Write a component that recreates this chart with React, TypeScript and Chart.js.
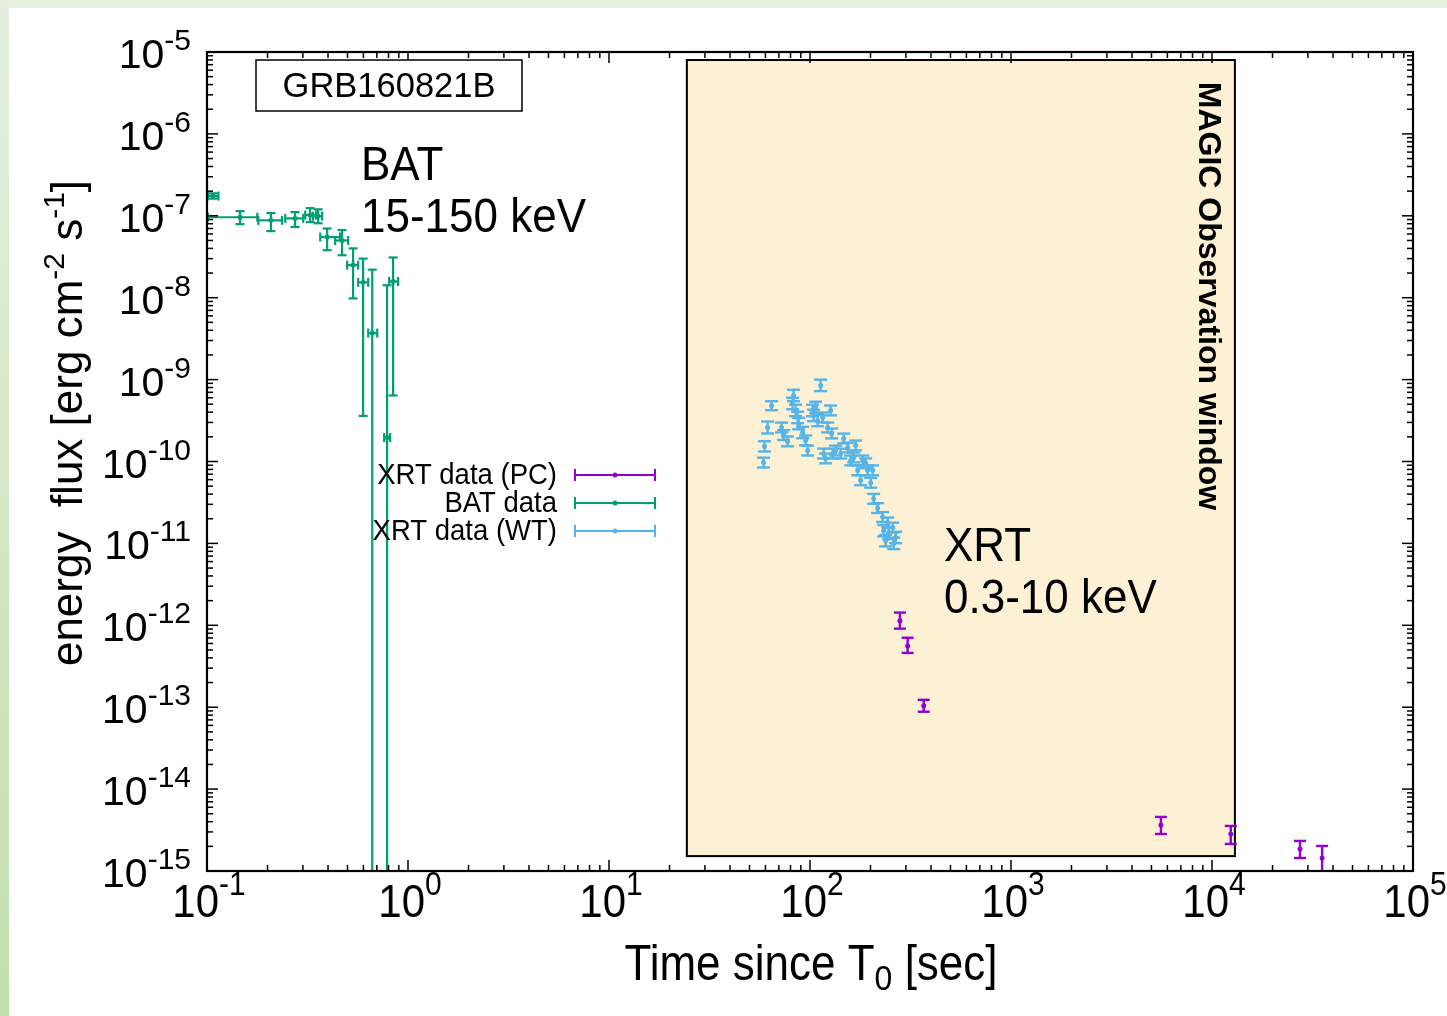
import React, { useEffect, useRef } from "react";
import { Chart, registerables } from "chart.js";

Chart.register(...registerables);

const FONT = '"Liberation Sans", Arial, Helvetica, sans-serif';

// ---- axes ----
const xMin = 0.1;
const xMax = 1e5;
const yMin = 1e-15;
const yMax = 1e-5;
const xTickValues = [0.1, 1, 10, 100, 1000, 10000, 100000];
const xTickExponents = ["-1", "0", "1", "2", "3", "4", "5"];
const yTickValues = [1e-5, 1e-6, 1e-7, 1e-8, 1e-9, 1e-10, 1e-11, 1e-12, 1e-13, 1e-14, 1e-15];
const yTickExponents = ["-5", "-6", "-7", "-8", "-9", "-10", "-11", "-12", "-13", "-14", "-15"];

// ---- series ----
const seriesLabels = ["XRT data (PC)", "BAT data", "XRT data (WT)"];
const seriesColors = ["#9400d3", "#009e73", "#56b4e9"];

// BAT 15-150 keV
const batTime = [0.107, 0.146, 0.208, 0.274, 0.326, 0.357, 0.396, 0.47, 0.533, 0.598, 0.664, 0.787, 0.843];
const batTimeLo = [0.101, 0.101, 0.18, 0.245, 0.308, 0.337, 0.366, 0.434, 0.498, 0.565, 0.634, 0.761, 0.806];
const batTimeHi = [0.114, 0.178, 0.236, 0.301, 0.349, 0.374, 0.459, 0.504, 0.565, 0.634, 0.703, 0.815, 0.893];
const batFlux = [1.74e-7, 9.6e-8, 8.8e-8, 9.3e-8, 1.02e-7, 9.9e-8, 5.5e-8, 5.0e-8, 2.5e-8, 1.54e-8, 3.7e-9, 1.96e-10, 1.58e-8];
const batFluxLo = [1.62e-7, 7.9e-8, 6.5e-8, 7.3e-8, 8.4e-8, 8.1e-8, 3.8e-8, 3.3e-8, 9.8e-9, 3.6e-10, 1e-18, 1e-18, 6.4e-10];
const batFluxHi = [1.88e-7, 1.14e-7, 1.08e-7, 1.11e-7, 1.24e-7, 1.2e-7, 7.0e-8, 6.7e-8, 4.0e-8, 3.0e-8, 2.2e-8, 1.42e-8, 3.1e-8];

// XRT PC 0.3-10 keV
const pcTime = [280, 306, 368, 5570, 12400, 27400, 35300];
const pcFlux = [1.14e-12, 5.6e-13, 1.04e-13, 3.65e-15, 2.83e-15, 1.86e-15, 1.44e-15];
const pcFluxLo = [9.1e-13, 4.6e-13, 8.8e-14, 2.83e-15, 2.14e-15, 1.44e-15, 1e-17];
const pcFluxHi = [1.43e-12, 7.05e-13, 1.23e-13, 4.57e-15, 3.55e-15, 2.33e-15, 2.02e-15];

// XRT WT 0.3-10 keV
const wtTime = [58.7, 59.4, 61.5, 64.4, 72.2, 73.9, 77.3, 81.9, 82.8, 84.8, 86.8, 87.8, 91.9, 95.1, 97.3, 103, 104.2, 106.6, 109.1, 112.9, 115.6, 116.9, 119.6, 122.4, 126.6, 128.1, 129.7, 134.1, 142.1, 147.1, 154, 159.3, 164.9, 168.7, 172.6, 178.6, 182.8, 189.2, 193.6, 200.4, 205, 207.3, 217, 229.8, 232.5, 237.9, 243.5, 246.3, 257.8, 260.8, 266.8];
const wtFlux = [9.7e-11, 1.53e-10, 2.6e-10, 4.8e-10, 2.6e-10, 2.1e-10, 1.76e-10, 5.1e-10, 6.4e-10, 4.2e-10, 3.45e-10, 2.9e-10, 2.26e-10, 1.81e-10, 1.36e-10, 4.2e-10, 3.65e-10, 4.57e-10, 3.17e-10, 8.5e-10, 3.45e-10, 1.25e-10, 1.09e-10, 2.6e-10, 4.2e-10, 2.2e-10, 1.25e-10, 1.36e-10, 1.25e-10, 1.91e-10, 1.48e-10, 1.03e-10, 1.12e-10, 1.57e-10, 7.8e-11, 5.9e-11, 1.03e-10, 9.5e-11, 7.8e-11, 5.5e-11, 7.8e-11, 3.5e-11, 2.7e-11, 2.1e-11, 1.43e-11, 1.08e-11, 1.8e-11, 1.32e-11, 1.56e-11, 1.0e-11, 1.18e-11];
const wtErrDex = [0.06, 0.063, 0.073, 0.055, 0.06, 0.06, 0.06, 0.07, 0.07, 0.07, 0.07, 0.07, 0.07, 0.06, 0.06, 0.07, 0.07, 0.07, 0.07, 0.07, 0.06, 0.06, 0.06, 0.06, 0.06, 0.06, 0.06, 0.06, 0.06, 0.06, 0.06, 0.06, 0.06, 0.06, 0.06, 0.06, 0.06, 0.06, 0.06, 0.06, 0.06, 0.06, 0.06, 0.06, 0.07, 0.07, 0.06, 0.07, 0.06, 0.07, 0.07];

// MAGIC observation window
const magicWindowTime = [24.4, 13000];
const magicWindowFlux = [1.52e-15, 7.98e-6];

// ---- text helpers ----
function txt(ctx: CanvasRenderingContext2D, s: string, x: number, y: number, font: string, align: CanvasTextAlign, sy = 1) {
  ctx.save();
  ctx.translate(x, y);
  ctx.scale(1, sy);
  ctx.font = font;
  ctx.textAlign = align;
  ctx.textBaseline = "alphabetic";
  ctx.fillStyle = "#000";
  ctx.fillText(s, 0, 0);
  ctx.restore();
}

function powLabel(ctx: CanvasRenderingContext2D, exp: string, x: number, y: number, baseSize: number, supSize: number, rise: number, align: "center" | "right", sy: number) {
  const bf = `${baseSize}px ${FONT}`;
  const sf = `${supSize}px ${FONT}`;
  ctx.font = bf;
  const wb = ctx.measureText("10").width;
  ctx.font = sf;
  const ws = ctx.measureText(exp).width;
  const total = wb + ws;
  const x0 = align === "center" ? x - total / 2 : x - total;
  txt(ctx, "10", x0, y, bf, "left", sy);
  txt(ctx, exp, x0 + wb, y - rise, sf, "left", sy);
}

type Seg = { t: string; shift: number; size: number };
function segWidth(ctx: CanvasRenderingContext2D, segs: Seg[]) {
  let w = 0;
  for (const s of segs) {
    ctx.font = `${s.size}px ${FONT}`;
    w += ctx.measureText(s.t).width;
  }
  return w;
}
function drawSegs(ctx: CanvasRenderingContext2D, segs: Seg[], x0: number, y: number, sy: number) {
  let x = x0;
  for (const s of segs) {
    const f = `${s.size}px ${FONT}`;
    txt(ctx, s.t, x, y + s.shift, f, "left", sy);
    ctx.font = f;
    x += ctx.measureText(s.t).width;
  }
}

const plotPlugin = {
  id: "grbPlot",
  beforeDraw(chart: any) {
    const ctx: CanvasRenderingContext2D = chart.ctx;
    const W = chart.width, H = chart.height;
    ctx.save();
    ctx.fillStyle = "#ffffff";
    ctx.fillRect(0, 0, W, H);
    ctx.fillStyle = "#e8f0e2";
    ctx.fillRect(0, 0, W, 8);
    const g = ctx.createLinearGradient(0, 0, 0, H);
    g.addColorStop(0, "#e6efdf");
    g.addColorStop(1, "#c2dfab");
    ctx.fillStyle = g;
    ctx.fillRect(0, 0, 9, H);
    ctx.restore();
  },
  beforeDatasetsDraw(chart: any) {
    const ctx: CanvasRenderingContext2D = chart.ctx;
    const xs = chart.scales.x, ys = chart.scales.y;
    const a = chart.chartArea;
    ctx.save();
    // MAGIC window
    const mx1 = xs.getPixelForValue(magicWindowTime[0]);
    const mx2 = xs.getPixelForValue(magicWindowTime[1]);
    const my1 = ys.getPixelForValue(magicWindowFlux[1]);
    const my2 = ys.getPixelForValue(magicWindowFlux[0]);
    ctx.fillStyle = "#fcf1d4";
    ctx.fillRect(mx1, my1, mx2 - mx1, my2 - my1);
    ctx.strokeStyle = "#000";
    ctx.lineWidth = 2;
    ctx.strokeRect(mx1, my1, mx2 - mx1, my2 - my1);

    ctx.beginPath();
    ctx.rect(a.left, a.top, a.right - a.left, a.bottom - a.top);
    ctx.clip();

    const seg = (x1: number, y1: number, x2: number, y2: number) => {
      ctx.beginPath();
      ctx.moveTo(x1, y1);
      ctx.lineTo(x2, y2);
      ctx.stroke();
    };
    const bar = (t: number, tlo: number, thi: number, f: number, flo: number, fhi: number, capW: number, capH: number) => {
      const px = xs.getPixelForValue(t);
      const py = ys.getPixelForValue(f);
      if (flo !== fhi) {
        const y1 = ys.getPixelForValue(flo);
        const y2 = ys.getPixelForValue(fhi);
        seg(px, y1, px, y2);
        if (y1 < a.bottom) seg(px - capW / 2, y1, px + capW / 2, y1);
        if (y2 < a.bottom) seg(px - capW / 2, y2, px + capW / 2, y2);
      }
      if (tlo !== thi) {
        const x1 = xs.getPixelForValue(tlo);
        const x2 = xs.getPixelForValue(thi);
        seg(x1, py, x2, py);
        seg(x1, py - capH / 2, x1, py + capH / 2);
        seg(x2, py - capH / 2, x2, py + capH / 2);
      }
    };

    // BAT
    ctx.strokeStyle = seriesColors[1];
    ctx.lineWidth = 2.2;
    for (let i = 0; i < batTime.length; i++) {
      bar(batTime[i], batTimeLo[i], batTimeHi[i], batFlux[i], batFluxLo[i], batFluxHi[i], 9, 9);
    }
    // WT
    ctx.strokeStyle = seriesColors[2];
    ctx.lineWidth = 2.4;
    for (let i = 0; i < wtTime.length; i++) {
      const f = wtFlux[i];
      const e = Math.pow(10, wtErrDex[i]);
      bar(wtTime[i], wtTime[i], wtTime[i], f, f / e, f * e, 13, 0);
    }
    // PC
    ctx.strokeStyle = seriesColors[0];
    ctx.lineWidth = 2.4;
    for (let i = 0; i < pcTime.length; i++) {
      bar(pcTime[i], pcTime[i], pcTime[i], pcFlux[i], pcFluxLo[i], pcFluxHi[i], 12, 0);
    }
    ctx.restore();
  },
  afterDraw(chart: any) {
    const ctx: CanvasRenderingContext2D = chart.ctx;
    const xs = chart.scales.x, ys = chart.scales.y;
    const a = chart.chartArea;
    ctx.save();
    ctx.strokeStyle = "#000";
    ctx.lineWidth = 1.5;
    const line = (x1: number, y1: number, x2: number, y2: number) => {
      ctx.beginPath();
      ctx.moveTo(x1, y1);
      ctx.lineTo(x2, y2);
      ctx.stroke();
    };
    // ticks (x)
    for (let d = -1; d < 5; d++) {
      for (let m = 1; m <= 9; m++) {
        const v = m * Math.pow(10, d);
        const px = xs.getPixelForValue(v);
        const len = m === 1 ? 11 : 6;
        line(px, a.bottom, px, a.bottom - len);
        line(px, a.top, px, a.top + len);
      }
    }
    // ticks (y)
    for (let d = -15; d < -5; d++) {
      for (let m = 1; m <= 9; m++) {
        const v = m * Math.pow(10, d);
        const py = ys.getPixelForValue(v);
        const len = m === 1 ? 11 : 6;
        line(a.left, py, a.left + len, py);
        line(a.right, py, a.right - len, py);
      }
    }
    // frame
    ctx.lineWidth = 2.2;
    ctx.strokeRect(a.left, a.top, a.right - a.left, a.bottom - a.top);

    // x tick labels
    xTickValues.forEach((v, i) => {
      const px = xs.getPixelForValue(v);
      powLabel(ctx, xTickExponents[i], px + 2, a.bottom + 46, 42, 30, 22, "center", 1.12);
    });
    // y tick labels
    yTickValues.forEach((v, i) => {
      const py = ys.getPixelForValue(v);
      powLabel(ctx, yTickExponents[i], a.left - 16, py + 16, 41, 30, 18, "right", 1.0);
    });

    // x title
    const xt: Seg[] = [
      { t: "Time since T", shift: 0, size: 44 },
      { t: "0", shift: 10, size: 32 },
      { t: " [sec]", shift: 0, size: 44 },
    ];
    const xw = segWidth(ctx, xt);
    drawSegs(ctx, xt, 811 - xw / 2, 980, 1.12);

    // y title
    const yt: Seg[] = [
      { t: "energy  flux [erg cm", shift: 0, size: 44 },
      { t: "-2", shift: -18, size: 30 },
      { t: " s", shift: 0, size: 44 },
      { t: "-1", shift: -18, size: 30 },
      { t: "]", shift: 0, size: 44 },
    ];
    const yw = segWidth(ctx, yt);
    ctx.save();
    ctx.translate(82, 423);
    ctx.rotate(-Math.PI / 2);
    drawSegs(ctx, yt, -yw / 2, 0, 1);
    ctx.restore();

    // GRB box
    ctx.fillStyle = "#fff";
    ctx.fillRect(256, 60, 266, 51);
    ctx.lineWidth = 1.5;
    ctx.strokeRect(256, 60, 266, 51);
    txt(ctx, "GRB160821B", 389, 97, `34.5px ${FONT}`, "center", 1.02);

    // annotations
    txt(ctx, "BAT", 361, 180, `44px ${FONT}`, "left", 1.1);
    txt(ctx, "15-150 keV", 361, 232, `44px ${FONT}`, "left", 1.1);
    txt(ctx, "XRT", 944, 561, `44px ${FONT}`, "left", 1.1);
    txt(ctx, "0.3-10 keV", 944, 613, `44px ${FONT}`, "left", 1.1);

    // MAGIC label
    ctx.save();
    ctx.translate(1199, 296);
    ctx.rotate(Math.PI / 2);
    ctx.font = `bold 32px ${FONT}`;
    ctx.textAlign = "center";
    ctx.textBaseline = "alphabetic";
    ctx.fillStyle = "#000";
    ctx.fillText("MAGIC Observation window", 0, 0);
    ctx.restore();

    // legend
    const rows = [475, 503, 531];
    seriesLabels.forEach((lab, i) => {
      const y = rows[i];
      txt(ctx, lab, 557, y + 9, `27.5px ${FONT}`, "right", 1.05);
      ctx.strokeStyle = seriesColors[i];
      ctx.fillStyle = seriesColors[i];
      ctx.lineWidth = 2;
      line(575, y, 655, y);
      line(575, y - 6, 575, y + 6);
      line(655, y - 6, 655, y + 6);
      ctx.beginPath();
      ctx.arc(615, y, 2.5, 0, Math.PI * 2);
      ctx.fill();
    });
    ctx.restore();
  },
};

export default function App() {
  const ref = useRef<HTMLCanvasElement | null>(null);
  useEffect(() => {
    if (!ref.current) return;
    const mk = (xsArr: number[], ysArr: number[]) => xsArr.map((x, i) => ({ x, y: ysArr[i] }));
    const chart = new Chart(ref.current, {
      type: "scatter",
      data: {
        datasets: [
          { label: seriesLabels[0], data: mk(pcTime, pcFlux), backgroundColor: seriesColors[0], borderColor: seriesColors[0], pointRadius: 2.5, borderWidth: 0 },
          { label: seriesLabels[1], data: mk(batTime, batFlux), backgroundColor: seriesColors[1], borderColor: seriesColors[1], pointRadius: 2.5, borderWidth: 0 },
          { label: seriesLabels[2], data: mk(wtTime, wtFlux), backgroundColor: seriesColors[2], borderColor: seriesColors[2], pointRadius: 2.5, borderWidth: 0 },
        ],
      },
      options: {
        animation: false,
        responsive: false,
        maintainAspectRatio: false,
        devicePixelRatio: 1,
        layout: { padding: { left: 207, right: 34, top: 52, bottom: 145 } },
        scales: {
          x: { type: "logarithmic", min: xMin, max: xMax, display: false },
          y: { type: "logarithmic", min: yMin, max: yMax, display: false },
        },
        plugins: { legend: { display: false }, tooltip: { enabled: false } },
      },
      plugins: [plotPlugin],
    } as any);
    return () => chart.destroy();
  }, []);
  return (
    <div style={{ position: "absolute", left: 0, top: 0, width: 1447, height: 1016, background: "#fff" }}>
      <canvas ref={ref} width={1447} height={1016} style={{ display: "block", width: 1447, height: 1016 }} />
    </div>
  );
}
